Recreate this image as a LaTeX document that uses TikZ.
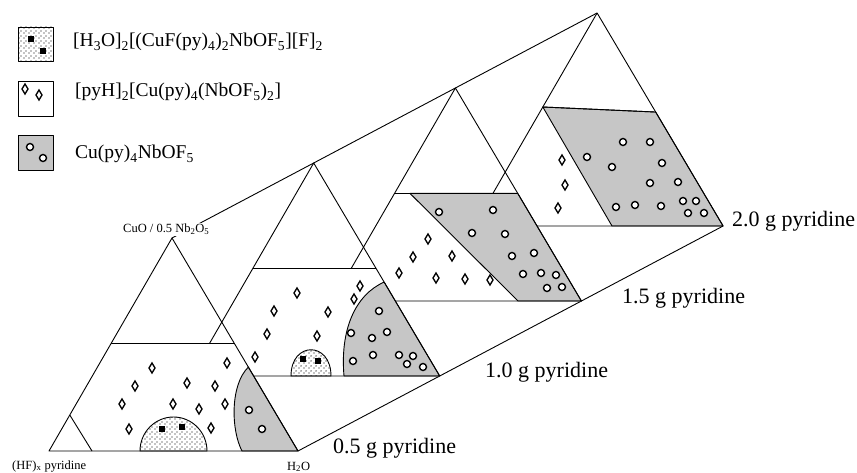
\documentclass[tikz,border=0pt]{standalone}
\usepackage{fontspec}
\setmainfont{Liberation Serif}
\usetikzlibrary{calc,patterns.meta}
\newcommand\sbs[1]{\textsubscript{#1}}
\tikzdeclarepattern{name=sparsedots,type=uncolored,
  bounding box={(0pt,0pt) and (4.5pt,4.5pt)},tile size={(4.5pt,4.5pt)},
  code={\pgfpathcircle{\pgfpoint{1.1pt}{1.1pt}}{0.7pt}\pgfpathcircle{\pgfpoint{3.35pt}{3.35pt}}{0.7pt}\pgfusepath{fill}}}
\tikzset{
  tline/.style={line width=0.9pt, line join=round},
  greyreg/.style={fill=gray!45},
  dotreg/.style={fill=white, postaction={pattern=sparsedots}},
  dia/.pic={\draw[line width=1.3pt, fill=white] (0pt,5pt)--(3pt,0pt)--(0pt,-5pt)--(-3pt,0pt)--cycle;},
  ring/.pic={\draw[line width=1.4pt, fill=white] (0pt,0pt) circle (3.5pt);},
  sqr/.pic={\fill (-2.8pt,-2.8pt) rectangle (2.8pt,2.8pt);},
  biglab/.style={font=\fontsize{22}{24}\selectfont, inner sep=0pt, anchor=base west},
  smalllab/.style={font=\fontsize{12.5}{14}\selectfont, inner sep=1.5pt, anchor=base west},
  leglab/.style={font=\fontsize{19.5}{22}\selectfont, inner sep=0pt, anchor=base west},
}
\begin{document}
\begin{tikzpicture}[x=1pt,y=-1pt]
\useasboundingbox (0,0) rectangle (857,473);
% corners
\coordinate (L1) at (49,451);    \coordinate (R1) at (298,451);   \coordinate (A1) at (172,238);
\coordinate (L2) at (190.7,376); \coordinate (R2) at (439.7,376); \coordinate (A2) at (313.7,163);
\coordinate (L3) at (332.4,301); \coordinate (R3) at (581.4,301); \coordinate (A3) at (455.4,88);
\coordinate (L4) at (474.1,226); \coordinate (R4) at (723.1,226); \coordinate (A4) at (597.1,13);
% connecting lines
\draw[tline] (A1) -- (A4);
\draw[tline] (R1) -- (R4);

% ---------- 2.0 g ----------
\coordinate (P4) at ($(L4)!0.5587!(A4)$);
\coordinate (Q4) at ($(R4)!0.535!(A4)$);
\coordinate (D4) at (612,226);
\fill[white] (L4)--(R4)--(Q4)--(P4)--cycle;
\filldraw[greyreg, tline] (P4)--(Q4)--(R4)--(D4)--cycle;
\draw[tline] (L4)--(R4)--(A4)--cycle;
\draw[tline] (P4)--(Q4);
\foreach \a/\b in {562/160,565/185,558/208} \pic at (\a,\b) {dia};
\foreach \a/\b in {623/142,650/142,587/157,612/167,662/163,650/183,678/182,616/207,635/205,661/206,683/201,696/201,688/213,704/213} \pic at (\a,\b) {ring};

% ---------- 1.5 g ----------
\coordinate (P3) at ($(L3)!0.505!(A3)$);
\coordinate (Q3) at ($(R3)!0.505!(A3)$);
\coordinate (G3) at (410,193.4);
\coordinate (D3) at (518,301);
\fill[white] (L3)--(R3)--(Q3)--(P3)--cycle;
\filldraw[greyreg, tline] (G3)--(Q3)--(R3)--(D3)--cycle;
\draw[tline] (L3)--(R3)--(A3)--cycle;
\draw[tline] (P3)--(Q3);
\foreach \a/\b in {428/239,413/257,452/256,399/273,436/278,465/279,490/280} \pic at (\a,\b) {dia};
\foreach \a/\b in {439/212,493/210,472/233,505/234,512/256,534/253,523/274,541/273,556/275,547/288,562/287} \pic at (\a,\b) {ring};

% ---------- 1.0 g ----------
\coordinate (P2) at ($(L2)!0.505!(A2)$);
\coordinate (Q2) at ($(R2)!0.505!(A2)$);
\coordinate (G2) at ($(R2)!0.441!(A2)$);
\fill[white] (L2)--(R2)--(Q2)--(P2)--cycle;
\filldraw[greyreg, tline] (344,376) .. controls (340,330) and (355,295) .. (G2) -- (R2) -- cycle;
\filldraw[dotreg, tline] (291,376) .. controls (291,341) and (331,341) .. (331,376) -- cycle;
\draw[tline] (L2)--(R2)--(A2)--cycle;
\draw[tline] (P2)--(Q2);
\foreach \a/\b in {297/293,274/311,328/312,267/334,317/336,255/357,354/299,360/286} \pic at (\a,\b) {dia};
\foreach \a/\b in {303/359,318/361} \pic at (\a,\b) {sqr};
\foreach \a/\b in {379/311,351/333,372/338,387/332,353/361,373/355,399/355,413/356,407/364,423/367} \pic at (\a,\b) {ring};

% ---------- 0.5 g ----------
\coordinate (P1) at ($(L1)!0.505!(A1)$);
\coordinate (Q1) at ($(R1)!0.505!(A1)$);
\coordinate (G1) at ($(R1)!0.394!(A1)$);
\coordinate (C1) at ($(L1)!0.169!(A1)$);
\fill[white] (L1)--(R1)--(Q1)--(P1)--cycle;
\filldraw[greyreg, tline] (242,451) .. controls (231,430) and (230,385) .. (G1) -- (R1) -- cycle;
\filldraw[dotreg, tline] (140,451) arc[start angle=180, end angle=360, x radius=33.5, y radius=34] -- cycle;
\draw[tline] (L1)--(R1)--(A1)--cycle;
\draw[tline] (P1)--(Q1);
\draw[tline] (C1)--(92,451);
\foreach \a/\b in {152/368,135/386,122/404,129/429,187/383,173/404,199/409,215/386,227/363,225/404,211/428} \pic at (\a,\b) {dia};
\foreach \a/\b in {162/429,182/427} \pic at (\a,\b) {sqr};
\foreach \a/\b in {249/410,262/429} \pic at (\a,\b) {ring};

% ---------- labels ----------
\node[smalllab, fill=white] (cuo) at (121.5,233) {CuO / 0.5 Nb\sbs{2}O\sbs{5}};
\node[smalllab] (hf) at (10.5,469) {(HF)\sbs{x} pyridine};
\node[smalllab] (h2o) at (285.5,470) {H\sbs{2}O};
\node[biglab] (p05) at (333,453) {0.5 g pyridine};
\node[biglab] (p10) at (485,377) {1.0 g pyridine};
\node[biglab] (p15) at (622,303) {1.5 g pyridine};
\node[biglab] (p20) at (732,227) {2.0 g pyridine};

% ---------- legend ----------
\filldraw[dotreg, tline] (18,27) rectangle (53,61);
\pic at (31,39) {sqr}; \pic at (43,51) {sqr};
\draw[tline, fill=white] (18,81) rectangle (53,116);
\pic at (25,89) {dia}; \pic at (39,95) {dia};
\filldraw[greyreg, tline] (18,135) rectangle (53,170);
\pic at (30,147) {ring}; \pic at (43,158) {ring};
\node[leglab] (leg1) at (73,47) {[H\sbs{3}O]\sbs{2}[(CuF(py)\sbs{4})\sbs{2}NbOF\sbs{5}][F]\sbs{2}};
\node[leglab] (leg2) at (75,97) {[pyH]\sbs{2}[Cu(py)\sbs{4}(NbOF\sbs{5})\sbs{2}]};
\node[leglab] (leg3) at (75,159) {Cu(py)\sbs{4}NbOF\sbs{5}};
\end{tikzpicture}
\end{document}
